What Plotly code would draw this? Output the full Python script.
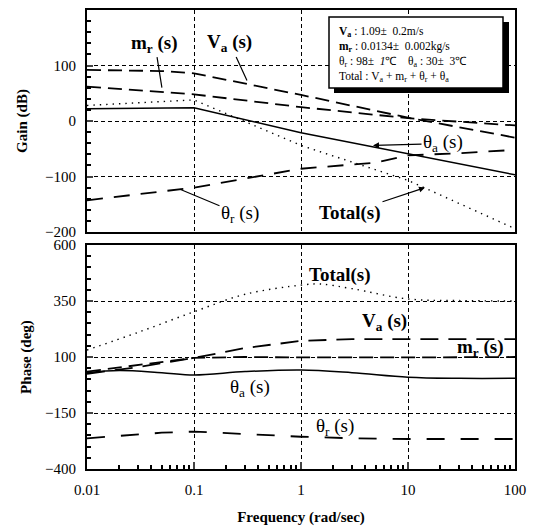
import plotly.graph_objects as go

# ---------------- data ----------------
gain_va_f = [0.01, 0.05, 0.1, 1, 10, 100]
gain_va = [92, 90, 86, 47, 6, -30]

gain_mr_f = [0.01, 0.1, 1, 10, 100]
gain_mr = [62, 48, 25, 5, -8]

gain_ta_f = [0.01, 0.1, 1, 10, 100]
gain_ta = [22, 24, -21, -59, -97]

gain_tr_f = [0.01, 0.07, 0.1, 1, 5, 10, 30, 100]
gain_tr = [-143, -124, -120, -86, -75, -62, -58, -52]

gain_tot_f = [0.01, 0.1, 1, 10, 100]
gain_tot = [28, 38, -44, -107, -194]

ph_va_f = [0.01, 0.03, 0.1, 0.3, 1, 3, 10, 100]
ph_va = [25, 55, 96, 140, 172, 180, 180, 180]

ph_mr_f = [0.01, 0.03, 0.1, 0.3, 1, 10, 100]
ph_mr = [35, 65, 96, 100, 98, 98, 100]

ph_ta_f = [0.01, 0.02, 0.05, 0.1, 0.3, 1, 3, 10, 30, 100]
ph_ta = [30, 40, 30, 20, 35, 42, 30, 10, 5, 5]

ph_tr_f = [0.01, 0.05, 0.1, 0.3, 1, 3, 10, 100]
ph_tr = [-263, -238, -233, -244, -256, -263, -266, -266]

ph_tot_f = [0.01, 0.03, 0.1, 0.3, 1, 1.5, 3, 10, 30, 100]
ph_tot = [131, 210, 302, 380, 421, 426, 405, 359, 352, 350]

x_tickvals = [0.01, 0.1, 1, 10, 100]
x_ticktext = ["0.01", "0.1", "1", "10", "100"]
gain_ticks = [-200, -100, 0, 100, 200]
phase_ticks = [-400, -150, 100, 350, 600]

legend_lines = [
    "<b>V<sub>a</sub></b> : 1.09±\u00a0\u00a00.2m/s",
    "<b>m<sub>r</sub></b> : 0.0134±\u00a0\u00a00.002kg/s",
    "θ<sub>r</sub> : 98±\u00a0\u00a0<i>1</i>℃\u00a0\u00a0\u00a0\u00a0θ<sub>a</sub> : 30±\u00a0\u00a03℃",
    "Total : V<sub>a</sub> + m<sub>r</sub> + θ<sub>r</sub> + θ<sub>a</sub>",
]

# ---------------- figure ----------------
FONT = "Liberation Serif, Times New Roman, serif"
OFF = 8  # page body margin
W, H = 538 - OFF, 528 - OFF
ML, MR, MT, MB = 87 - OFF, 23, 10 - OFF, 59
PW, PH = W - ML - MR, H - MT - MB


def px2paper(px, py):
    # px, py are positions in the reference picture
    return (px - 87) / PW, (469 - py) / PH


fig = go.Figure()

long_dash = "14px,7px"
tr_dash = "16px,11px"
lw = 1.8

# gain traces
fig.add_trace(go.Scatter(x=gain_va_f, y=gain_va, mode="lines",
                         line=dict(color="black", width=lw, dash=long_dash), xaxis="x", yaxis="y"))
fig.add_trace(go.Scatter(x=gain_mr_f, y=gain_mr, mode="lines",
                         line=dict(color="black", width=lw, dash=long_dash), xaxis="x", yaxis="y"))
fig.add_trace(go.Scatter(x=gain_ta_f, y=gain_ta, mode="lines",
                         line=dict(color="black", width=1.5), xaxis="x", yaxis="y"))
fig.add_trace(go.Scatter(x=gain_tr_f, y=gain_tr, mode="lines",
                         line=dict(color="black", width=lw, dash=tr_dash), xaxis="x", yaxis="y"))
fig.add_trace(go.Scatter(x=gain_tot_f, y=gain_tot, mode="lines",
                         line=dict(color="black", width=1.4, dash="1.4px,5px"), xaxis="x", yaxis="y"))

# phase traces
fig.add_trace(go.Scatter(x=ph_va_f, y=ph_va, mode="lines",
                         line=dict(color="black", width=lw, dash="18px,10px"), xaxis="x2", yaxis="y2"))
fig.add_trace(go.Scatter(x=ph_mr_f, y=ph_mr, mode="lines",
                         line=dict(color="black", width=lw, dash=long_dash), xaxis="x2", yaxis="y2"))
fig.add_trace(go.Scatter(x=ph_ta_f, y=ph_ta, mode="lines", line_shape="spline",
                         line=dict(color="black", width=1.5), xaxis="x2", yaxis="y2"))
fig.add_trace(go.Scatter(x=ph_tr_f, y=ph_tr, mode="lines",
                         line=dict(color="black", width=lw, dash="18px,16px"), xaxis="x2", yaxis="y2"))
fig.add_trace(go.Scatter(x=ph_tot_f, y=ph_tot, mode="lines", line_shape="spline",
                         line=dict(color="black", width=1.4, dash="1.4px,5px"), xaxis="x2", yaxis="y2"))

minor_x = [k * 10 ** d for d in (-2, -1, 0, 1) for k in range(2, 10)]

axis_common = dict(
    showline=True, linecolor="black", linewidth=2, mirror=True,
    showgrid=True, gridcolor="black", gridwidth=1, griddash="4px,3px",
    zeroline=False, automargin=False,
    tickfont=dict(family=FONT, size=15, color="black"),
)

top_dom = [px2paper(0, 232)[1], 1.0]
bot_dom = [0.0, px2paper(0, 245)[1]]

fig.update_layout(
    width=W, height=H,
    margin=dict(l=ML, r=MR, t=MT, b=MB),
    plot_bgcolor="white", paper_bgcolor="white",
    showlegend=False,
    font=dict(family=FONT, color="black"),
    xaxis=dict(axis_common, type="log", range=[-2, 2], domain=[0, 1], anchor="y",
               tickvals=x_tickvals, showticklabels=False, ticks=""),
    yaxis=dict(axis_common, range=[-200, 200], domain=top_dom, anchor="x",
               tickvals=gain_ticks, ticks="inside", ticklen=6, tickwidth=1.5,
               minor=dict(dtick=20, ticks="inside", ticklen=4, tickcolor="black", showgrid=False),
               ticklabelstandoff=6,
               title=dict(text="<b>Gain (dB)</b>", font=dict(family=FONT, size=15), standoff=14)),
    xaxis2=dict(axis_common, type="log", range=[-2, 2], domain=[0, 1], anchor="y2",
                tickvals=x_tickvals, ticktext=x_ticktext, ticks="inside", ticklen=7, tickwidth=1.5,
                minor=dict(tickvals=minor_x, ticks="inside", ticklen=4, tickcolor="black", showgrid=False),
                ticklabelstandoff=6,
                title=dict(text="<b>Frequency (rad/sec)</b>", font=dict(family=FONT, size=15), standoff=14)),
    yaxis2=dict(axis_common, range=[-400, 600], domain=bot_dom, anchor="x2",
                tickvals=phase_ticks, ticks="inside", ticklen=6, tickwidth=1.5,
                minor=dict(dtick=50, ticks="inside", ticklen=4, tickcolor="black", showgrid=False),
                ticklabelstandoff=6,
                title=dict(text="<b>Phase (deg)</b>", font=dict(family=FONT, size=15), standoff=10)),
)

lab_font = dict(family=FONT, size=19, color="black")

# gain labels with arrows (head position in log10 x, data y; tail offset in pixels)
arrows = [
    ("<b>m<sub>r</sub> (s)</b>", -1.30, 60, -7, -44, 0),
    ("<b>V<sub>a</sub> (s)</b>", -0.505, 73, -17, -37, 0),
    ("θ<sub>r</sub> (s)", -1.131, -123, 60, 25, 0),
    ("<b>Total(s)</b>", 1.159, -120, -75, 25, 2),
    ("θ<sub>a</sub> (s)", 0.673, -44, 70, -2, 2),
]
for text, hx, hy, ax, ay, head in arrows:
    fig.add_annotation(text=text, x=hx, y=hy, xref="x", yref="y", ax=ax, ay=ay,
                       showarrow=True, arrowhead=head, arrowsize=1, arrowwidth=1.2,
                       arrowcolor="black", font=lab_font)

# phase labels
ph_labels = [
    ("<b>Total(s)</b>", 0.364, 466),
    ("<b>V<sub>a</sub> (s)</b>", 0.78, 258),
    ("<b>m<sub>r</sub> (s)</b>", 1.68, 140),
    ("θ<sub>a</sub> (s)", -0.477, -38),
    ("θ<sub>r</sub> (s)", 0.318, -212),
]
for text, lx, ly in ph_labels:
    fig.add_annotation(text=text, x=lx, y=ly, xref="x2", yref="y2", showarrow=False,
                       font=lab_font)

# legend box with shadow
bx0, by0 = px2paper(329, 88)
bx1, by1 = px2paper(503, 17)
sx0, sy0 = px2paper(334, 93)
sx1, sy1 = px2paper(509, 22)
fig.add_shape(type="rect", xref="paper", yref="paper", x0=sx0, y0=sy0, x1=sx1, y1=sy1,
              fillcolor="black", line=dict(color="black", width=0))
fig.add_shape(type="rect", xref="paper", yref="paper", x0=bx0, y0=by0, x1=bx1, y1=by1,
              fillcolor="white", line=dict(color="black", width=1.5))
tx, ty = px2paper(337, 23)
fig.add_annotation(text="<br>".join(legend_lines), x=tx, y=ty, xref="paper", yref="paper",
                   xanchor="left", yanchor="top", align="left", showarrow=False,
                   font=dict(family=FONT, size=11.5, color="black"))

fig.write_html("out.html")
